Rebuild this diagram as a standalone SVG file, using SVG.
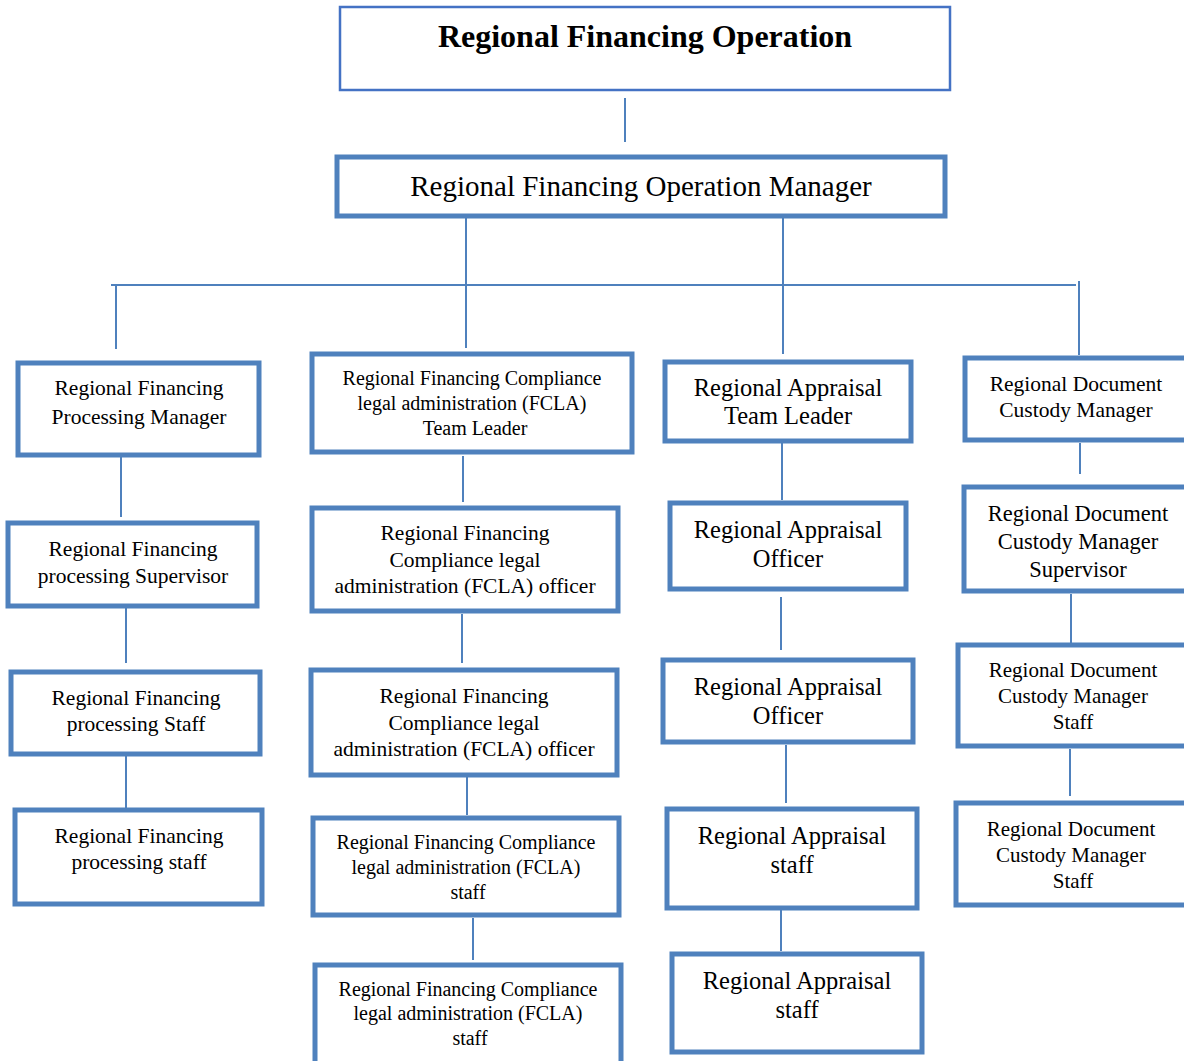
<svg xmlns="http://www.w3.org/2000/svg" width="1184" height="1061" viewBox="0 0 1184 1061">
<style>
  text { font-family: "Liberation Serif", "Times New Roman", serif; fill: #000; text-anchor: middle; }
  .box { fill: #fff; stroke: #4F81BD; stroke-width: 5; }
  .top { fill: #fff; stroke: #4472C4; stroke-width: 2.5; }
  .ln { stroke: #4F81BD; stroke-width: 2; fill: none; }
  .tt { font-size: 32px; font-weight: bold; }
  .tm { font-size: 29px; }
  .ta { font-size: 21.5px; }
  .tb { font-size: 20px; }
  .tb2 { font-size: 21.5px; }
  .tc { font-size: 24.5px; }
  .td1 { font-size: 21.5px; }
  .td2 { font-size: 22.5px; }
  .td3 { font-size: 21px; }
</style>
<rect width="1184" height="1061" fill="#fff"/>
<g id="connectors">
  <line class="ln" x1="625" y1="98" x2="625" y2="142"/>
  <line class="ln" x1="466" y1="218" x2="466" y2="348"/>
  <line class="ln" x1="783" y1="218" x2="783" y2="354"/>
  <line class="ln" x1="111" y1="285" x2="1076" y2="285"/>
  <line class="ln" x1="116" y1="285" x2="116" y2="349"/>
  <line class="ln" x1="1079" y1="281" x2="1079" y2="355"/>
  <line class="ln" x1="121" y1="457" x2="121" y2="517"/>
  <line class="ln" x1="126" y1="608" x2="126" y2="663"/>
  <line class="ln" x1="126" y1="748" x2="126" y2="808"/>
  <line class="ln" x1="463" y1="456" x2="463" y2="502"/>
  <line class="ln" x1="462" y1="614" x2="462" y2="663"/>
  <line class="ln" x1="467" y1="775" x2="467" y2="815"/>
  <line class="ln" x1="473" y1="918" x2="473" y2="960"/>
  <line class="ln" x1="782" y1="443" x2="782" y2="500"/>
  <line class="ln" x1="781" y1="597" x2="781" y2="650"/>
  <line class="ln" x1="786" y1="745" x2="786" y2="803"/>
  <line class="ln" x1="781" y1="906" x2="781" y2="951"/>
  <line class="ln" x1="1080" y1="443" x2="1080" y2="474"/>
  <line class="ln" x1="1071" y1="594" x2="1071" y2="646"/>
  <line class="ln" x1="1070" y1="749" x2="1070" y2="796"/>
</g>
<g id="n-top"><rect class="top" x="340" y="7" width="610" height="83"/><text class="tt" x="645" y="47">Regional Financing Operation</text></g>
<g id="n-mgr"><rect class="box" x="337" y="157" width="608" height="59"/><text class="tm" x="641" y="196">Regional Financing Operation Manager</text></g>

<g id="n-a1"><rect class="box" x="18" y="363" width="241" height="92"/><text class="ta" x="139" y="395">Regional Financing</text><text class="ta" x="139" y="424">Processing Manager</text></g>
<g id="n-a2"><rect class="box" x="8" y="523" width="249" height="83"/><text class="ta" x="133" y="556">Regional Financing</text><text class="ta" x="133" y="583">processing Supervisor</text></g>
<g id="n-a3"><rect class="box" x="11" y="672" width="249" height="82"/><text class="ta" x="136" y="705">Regional Financing</text><text class="ta" x="136" y="731">processing Staff</text></g>
<g id="n-a4"><rect class="box" x="15" y="810" width="247" height="94"/><text class="ta" x="139" y="843">Regional Financing</text><text class="ta" x="139" y="869">processing staff</text></g>

<g id="n-b1"><rect class="box" x="312" y="354" width="320" height="98"/><text class="tb" x="472" y="385">Regional Financing Compliance</text><text class="tb" x="472" y="410">legal administration (FCLA)</text><text class="tb" x="475" y="435">Team Leader</text></g>
<g id="n-b2"><rect class="box" x="312" y="508" width="306" height="103"/><text class="tb2" x="465" y="540">Regional Financing</text><text class="tb2" x="465" y="567">Compliance legal</text><text class="tb2" x="465" y="593">administration (FCLA) officer</text></g>
<g id="n-b3"><rect class="box" x="311" y="670" width="306" height="105"/><text class="tb2" x="464" y="703">Regional Financing</text><text class="tb2" x="464" y="730">Compliance legal</text><text class="tb2" x="464" y="756">administration (FCLA) officer</text></g>
<g id="n-b4"><rect class="box" x="313" y="818" width="306" height="97"/><text class="tb" x="466" y="849">Regional Financing Compliance</text><text class="tb" x="466" y="874">legal administration (FCLA)</text><text class="tb" x="468" y="899">staff</text></g>
<g id="n-b5"><rect class="box" x="315" y="965" width="306" height="100"/><text class="tb" x="468" y="996">Regional Financing Compliance</text><text class="tb" x="468" y="1020">legal administration (FCLA)</text><text class="tb" x="470" y="1045">staff</text></g>

<g id="n-c1"><rect class="box" x="665" y="362" width="246" height="79"/><text class="tc" x="788" y="396">Regional Appraisal</text><text class="tc" x="788" y="424">Team Leader</text></g>
<g id="n-c2"><rect class="box" x="670" y="503" width="236" height="86"/><text class="tc" x="788" y="538">Regional Appraisal</text><text class="tc" x="788" y="567">Officer</text></g>
<g id="n-c3"><rect class="box" x="663" y="660" width="250" height="82"/><text class="tc" x="788" y="695">Regional Appraisal</text><text class="tc" x="788" y="724">Officer</text></g>
<g id="n-c4"><rect class="box" x="667" y="809" width="250" height="99"/><text class="tc" x="792" y="844">Regional Appraisal</text><text class="tc" x="792" y="873">staff</text></g>
<g id="n-c5"><rect class="box" x="672" y="954" width="250" height="98"/><text class="tc" x="797" y="989">Regional Appraisal</text><text class="tc" x="797" y="1018">staff</text></g>

<g id="n-d1"><rect class="box" x="965" y="358" width="230" height="82"/><text class="td1" x="1076" y="391">Regional Document</text><text class="td1" x="1076" y="417">Custody Manager</text></g>
<g id="n-d2"><rect class="box" x="964" y="487" width="230" height="104"/><text class="td2" x="1078" y="521">Regional Document</text><text class="td2" x="1078" y="549">Custody Manager</text><text class="td2" x="1078" y="577">Supervisor</text></g>
<g id="n-d3"><rect class="box" x="958" y="645" width="236" height="101"/><text class="td3" x="1073" y="677">Regional Document</text><text class="td3" x="1073" y="703">Custody Manager</text><text class="td3" x="1073" y="729">Staff</text></g>
<g id="n-d4"><rect class="box" x="956" y="803" width="238" height="102"/><text class="td3" x="1071" y="836">Regional Document</text><text class="td3" x="1071" y="862">Custody Manager</text><text class="td3" x="1073" y="888">Staff</text></g>
</svg>
